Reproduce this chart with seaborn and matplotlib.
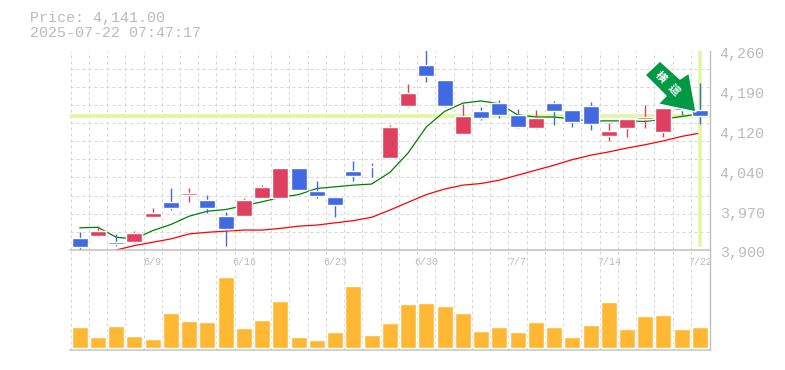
import matplotlib

matplotlib.use("Agg")
import matplotlib.pyplot as plt
import numpy as np
import seaborn as sns
from matplotlib.patches import Polygon
from matplotlib.transforms import ScaledTranslation

# Daily candles, red closes up and blue closes down
opens = [3922, 3926, 3915, 3915, 3960, 3987, 4000, 3991, 3962, 3962, 3994, 3994,
         4048, 4007, 3996, 4043, 4052, 4066, 4160, 4234, 4207, 4110, 4151, 4166,
         4144, 4121, 4166, 4153, 4160, 4106, 4121, 4137, 4113, 4156, 4153]
closes = [3905, 3935, 3911, 3931, 3967, 3976, 4003, 3975, 3937, 3991, 4014, 4048,
          4009, 3998, 3982, 4034, 4050, 4122, 4184, 4214, 4160, 4142, 4139, 4144,
          4122, 4139, 4151, 4131, 4128, 4115, 4137, 4140, 4156, 4153, 4141]
highs = [3932, 3944, 3929, 3935, 3976, 4011, 4012, 4000, 3969, 3994, 4018, 4048,
         4048, 4025, 3996, 4061, 4057, 4126, 4200, 4261, 4207, 4164, 4158, 4171,
         4155, 4153, 4169, 4153, 4167, 4130, 4137, 4162, 4157, 4160, 4202]
lows = [3902, 3924, 3908, 3913, 3960, 3973, 3987, 3967, 3908, 3962, 3993, 3994,
        4009, 3994, 3960, 4025, 4032, 4066, 4158, 4203, 4158, 4110, 4135, 4139,
        4121, 4119, 4126, 4122, 4117, 4097, 4104, 4121, 4104, 4144, 4128]
ma_short = [3940, 3941, 3923, 3920, 3935, 3946, 3961, 3970, 3973, 3980, 3987, 3995,
            4000, 4011, 4014, 4017, 4019, 4040, 4075, 4122, 4150, 4165, 4169, 4164,
            4144, 4140, 4140, 4136, 4133, 4133, 4133, 4132, 4136, 4141, 4146]
ma_long = [None, None, 3900, 3908, 3914, 3920, 3929, 3932, 3934, 3936, 3936, 3939,
           3943, 3945, 3949, 3953, 3959, 3972, 3986, 4000, 4010, 4017, 4020, 4026,
           4035, 4044, 4053, 4063, 4071, 4077, 4084, 4090, 4097, 4105, 4111]
volume = [6300, 3300, 6600, 3600, 2700, 10500, 8100, 7800, 21300, 6000, 8400, 14100,
          3300, 2400, 4800, 18600, 3900, 7500, 13200, 13500, 12600, 10500, 5100, 6300,
          4800, 7800, 6300, 3300, 6900, 13800, 5700, 9600, 9900, 5700, 6300]
date_ticks = [4, 9, 14, 19, 24, 29, 34]
date_labels = ["6/9", "6/16", "6/23", "6/30", "7/7", "7/14", "7/22"]
price_ticks = [3900, 3972, 4044, 4116, 4188, 4260]
price_labels = ["3,900", "3,970", "4,040", "4,120", "4,190", "4,260"]
last_price = 4141

W, H = 785, 370
UP = "#e04060"
DOWN = "#4169e1"
GREY = "#c0c0c0"
HILITE = "#e2f5a2"
GRID = "#d6d6d6"
FONT = ["Liberation Mono", "DejaVu Sans Mono"]
CJK = ["Noto Sans CJK JP", "DejaVu Sans"]

sns.set_theme(style="white")
plt.rcParams["font.family"] = FONT

fig = plt.figure(figsize=(W / 100, H / 100), dpi=100)
ax = fig.add_axes([70 / W, 1 - 250 / H, 640 / W, 199.5 / H])
ax_vol = fig.add_axes([70 / W, 1 - 350 / H, 640 / W, 100 / H], sharex=ax)
ax_vol.patch.set_alpha(0)

days = np.arange(len(closes))
x_lim = (-0.53, 34.55)

# Guide lines
for a in (ax, ax_vol):
    a.set_xticks(days - 0.5, minor=True)
    a.grid(which="minor", axis="x", color=GRID, lw=0.72, ls=(0, (3, 3)), zorder=0)
    a.tick_params(which="both", length=0)
ax.set_yticks(np.linspace(3900, 4260, 12), minor=True)
ax.grid(which="minor", axis="y", color=GRID, lw=0.72, ls=(0, (3, 3)), zorder=0)
ax.axhline(last_price, color=HILITE, lw=2.6, zorder=1)

# Moving averages
sns.lineplot(x=days, y=ma_long, ax=ax, color="#ff0000", lw=0.9, zorder=2)
sns.lineplot(x=days, y=ma_short, ax=ax, color="#008000", lw=0.9, zorder=2)

# Candles
colors = [UP if c >= o else DOWN for o, c in zip(opens, closes)]
ax.vlines(days, lows, highs, colors=colors, lw=1, zorder=3)
bottoms = np.minimum(opens, closes)
tops = np.maximum(opens, closes)
ax.bar(days, tops - bottoms, bottom=bottoms, width=0.877, color=colors, zorder=3)

ax.vlines(days[-1], 3905, 4260, color=HILITE, lw=2.6, zorder=2.5)

ax.set_xlim(x_lim)
ax.set_ylim(3900, 4260)
ax.set_xlabel("")
ax.set_ylabel("")

# Volume
sns.barplot(x=days, y=volume, ax=ax_vol, color="#ffb833", saturation=1,
            width=0.877, native_scale=True, zorder=3)
ax_vol.set_xlim(x_lim)
ax_vol.set_ylim(-600, 29400)
ax_vol.set_yticks([])
ax_vol.set_ylabel("")

# Axis text
ax.yaxis.tick_right()
ax.set_yticks(price_ticks, price_labels)
ax.tick_params(axis="y", which="major", labelsize=10.8, labelcolor="#bbbbbb", pad=7)
offset = ScaledTranslation(0, -2 / 100, fig.dpi_scale_trans)
for label in ax.get_yticklabels():
    label.set_transform(label.get_transform() + offset)

ax.set_xticks(date_ticks, date_labels)
ax.tick_params(axis="x", which="major", labelsize=7.2, labelcolor="#bbbbbb", pad=5)
ax_vol.tick_params(axis="x", which="major", labelbottom=False)

for a in (ax, ax_vol):
    for side in ("top", "left"):
        a.spines[side].set_visible(False)
    a.spines["right"].set_color(GREY)
    a.spines["right"].set_linewidth(1)
    a.spines["bottom"].set_color(GREY)
    a.spines["bottom"].set_linewidth(1.1)

# Header
fig.text(30 / W, 1 - 18 / H, "Price: 4,141.00", fontsize=10.8, color="#bbbbbb", va="center")
fig.text(30 / W, 1 - 33 / H, "2025-07-22 07:47:17", fontsize=10.8, color="#bbbbbb", va="center")

# Trend arrow
arrow_px = [(660, 61), (680, 79), (689, 73), (696, 112), (658, 104), (666, 96), (645, 75)]
arrow = Polygon([(x / W, 1 - y / H) for x, y in arrow_px], closed=True, transform=fig.transFigure,
                facecolor="#009944", edgecolor="white", lw=1, zorder=5)
fig.add_artist(arrow)
for glyph, gx, gy in [("横", 661, 77), ("這", 674, 90)]:
    fig.text(gx / W, 1 - gy / H, glyph, fontsize=8, color="white", rotation=-45, ha="center",
             va="center", family=CJK, weight="bold", zorder=6)

fig.savefig("out.png", dpi=100)
